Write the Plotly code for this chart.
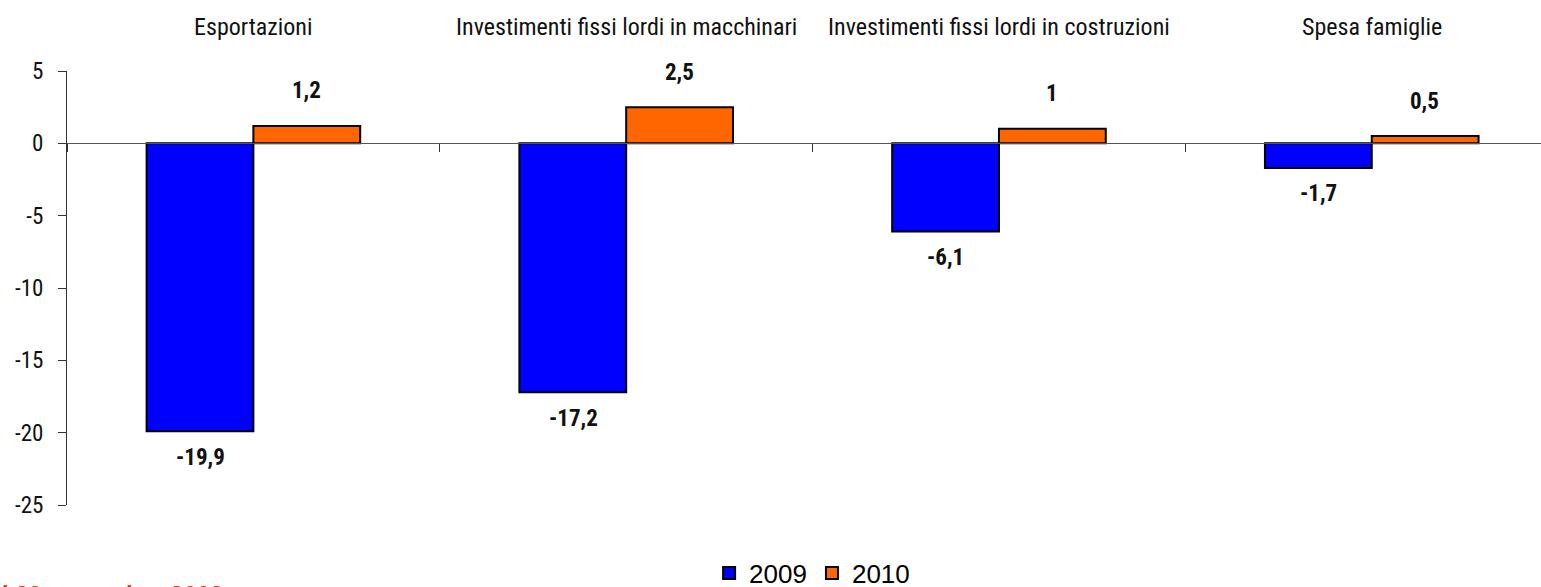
import plotly.graph_objects as go

categories = ["Esportazioni", "Investimenti fissi lordi in macchinari",
              "Investimenti fissi lordi in costruzioni", "Spesa famiglie"]
series_names = ["2009", "2010"]
values_2009 = [-19.9, -17.2, -6.1, -1.7]
values_2010 = [1.2, 2.5, 1.0, 0.5]
label_2009 = ["-19,9", "-17,2", "-6,1", "-1,7"]
label_2010 = ["1,2", "2,5", "1", "0,5"]
y_ticks = [5, 0, -5, -10, -15, -20, -25]
footnote = "l 29 settembre 2009"

NARROW = "Liberation Sans Narrow, Arial Narrow, Roboto Condensed, sans-serif"
ARIAL = "Liberation Sans, Arial, sans-serif"

y_min, y_max = -25, 5

fig = go.Figure()
fig.add_trace(go.Bar(name=series_names[0], x=categories, y=values_2009,
                     marker=dict(color="#0000FF", line=dict(color="#000000", width=2))))
fig.add_trace(go.Bar(name=series_names[1], x=categories, y=values_2010,
                     marker=dict(color="#FF6600", line=dict(color="#000000", width=2))))

annotations = []
for c, v, t in zip(categories, values_2009, label_2009):
    annotations.append(dict(x=c, y=v, xref="x", yref="y", text="<b>" + t + "</b>", showarrow=False,
                            xshift=-53, yshift=-26 if v < 0 else 35, yanchor="middle",
                            font=dict(family=NARROW, size=23, color="#111111")))
for c, v, t in zip(categories, values_2010, label_2010):
    annotations.append(dict(x=c, y=v, xref="x", yref="y", text="<b>" + t + "</b>", showarrow=False,
                            xshift=53, yshift=-26 if v < 0 else 35, yanchor="middle",
                            font=dict(family=NARROW, size=23, color="#111111")))
for c in categories:
    annotations.append(dict(x=c, y=1, xref="x", yref="paper", text=c, showarrow=False,
                            yanchor="middle", yshift=44,
                            font=dict(family=NARROW, size=24, color="#111111")))
annotations.append(dict(x=0, y=-0.207, xref="paper", yref="paper", text="<b>" + footnote + "</b>",
                        showarrow=False, xanchor="left", yanchor="middle", xshift=-67,
                        font=dict(family=ARIAL, size=24, color="#D4461A")))

zero_pos = (0 - y_min) / (y_max - y_min)

fig.update_layout(
    width=1541, height=587,
    margin=dict(l=67, r=0, t=71, b=82, autoexpand=False),
    paper_bgcolor="white", plot_bgcolor="white",
    barmode="group", bargap=0.427, bargroupgap=0,
    showlegend=True,
    legend=dict(orientation="h", x=0.5055, xanchor="center", y=-0.157, yanchor="middle",
                font=dict(family=ARIAL, size=26, color="#000000"),
                itemsizing="constant", itemwidth=30, tracegroupgap=0),
    annotations=annotations,
    xaxis=dict(range=[-0.5, 3.454], anchor="free", position=zero_pos,
               showline=True, linecolor="#555555", linewidth=1,
               ticks="outside", tickson="boundaries", ticklen=8, tickcolor="#333333",
               showticklabels=False, showgrid=False, zeroline=False),
    yaxis=dict(range=[y_min, y_max], tickvals=y_ticks, ticktext=[str(v) for v in y_ticks],
               showline=True, linecolor="#333333", linewidth=1,
               ticks="outside", ticklen=8, tickcolor="#333333",
               ticklabelstandoff=10,
               tickfont=dict(family=NARROW, size=23, color="#111111"),
               showgrid=False, zeroline=False),
)

fig.write_html(
    "out.html",
    config={"displayModeBar": False},
    post_script=("document.body.style.margin='0';"
                 "document.body.style.overflow='hidden';"
                 "document.documentElement.style.overflow='hidden';"),
)
